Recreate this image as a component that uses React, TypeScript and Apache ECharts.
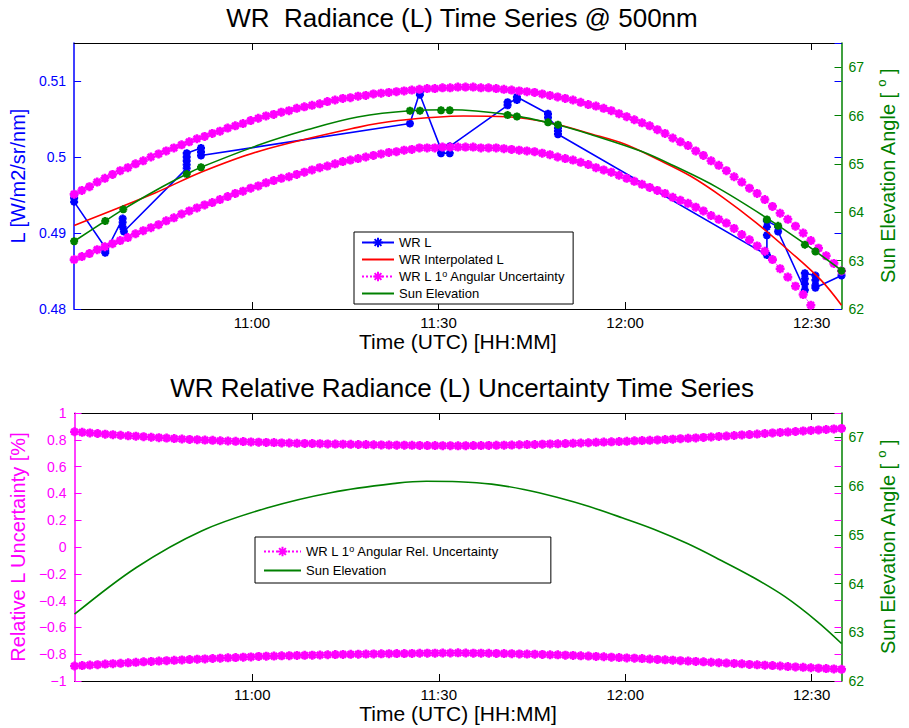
import React, { useEffect, useRef } from 'react';
import * as echarts from 'echarts';

const FONT = '"Liberation Sans", Arial, Helvetica, sans-serif';
const BLUE = '#0000ff';
const RED = '#ff0000';
const MAGENTA = '#ff00ff';
const GREEN = '#008000';
const STAR = 'path://M5 0L5 10M0 5L10 5M1.46 1.46L8.54 8.54M1.46 8.54L8.54 1.46';
const NO_MARK = 'path://M0 0L1 1';

// time axis, minutes since 00:00 UTC
const X_MIN = 631.4;
const X_MAX = 754.8;
const X_TICKS = [660, 690, 720, 750];

// WR L measurements (top plot, left axis)
const wrTimes = [
  631.4, 631.4, 631.4, 636.4, 636.4, 636.4, 639.2, 639.2, 639.2, 639.4,
  649.5, 649.5, 649.5, 649.5, 649.5, 651.8, 651.8, 651.8, 685.4, 687.0, 687.0,
  690.4, 690.4, 691.8, 691.8, 701.1, 701.1, 702.6, 702.6, 707.6, 707.6,
  709.2, 709.2, 709.2, 742.8, 742.8, 742.8, 742.8, 744.6, 744.6,
  748.9, 748.9, 748.9, 748.9, 750.6, 750.6, 750.6, 750.6, 754.8,
];
const wrL = [
  0.4951, 0.4946, 0.4941, 0.4881, 0.4877, 0.4874, 0.4919, 0.4914, 0.4908, 0.4902,
  0.4985, 0.4990, 0.4995, 0.5000, 0.5005, 0.5012, 0.5007, 0.5002, 0.5044, 0.5086, 0.5082,
  0.5010, 0.5005, 0.5005, 0.5014, 0.5068, 0.5072, 0.5075, 0.5079, 0.5057, 0.5052,
  0.5038, 0.5034, 0.5030, 0.4871, 0.4897, 0.4908, 0.4916, 0.4908, 0.4902,
  0.4825, 0.4833, 0.4840, 0.4847, 0.4844, 0.4838, 0.4831, 0.4828, 0.4844,
];

// WR interpolated L
const interpTimes = [631.4, 644.5, 651.8, 661.3, 677.0, 683.5, 694.0, 701.1, 707.9, 714.7, 719.9, 725.2, 730.5, 735.7, 741.0, 746.3, 751.5, 754.8];
const interpL = [0.4910, 0.4953, 0.4980, 0.5008, 0.5039, 0.5048, 0.5054, 0.5053, 0.5045, 0.5030, 0.5017, 0.4997, 0.4975, 0.4947, 0.4914, 0.4877, 0.4838, 0.4805];

// uncertainty envelope sampling (regular grid of 101 samples)
const UNC_START = 631.4;
const UNC_STEP = 1.234;

const uncUpperL = [
  0.4951, 0.4956, 0.4961, 0.4967, 0.4972, 0.4977, 0.4982, 0.4986, 0.4991, 0.4995,
  0.5000, 0.5004, 0.5008, 0.5012, 0.5016, 0.5020, 0.5024, 0.5027, 0.5031, 0.5034,
  0.5038, 0.5041, 0.5044, 0.5048, 0.5051, 0.5054, 0.5056, 0.5059, 0.5061, 0.5064,
  0.5066, 0.5068, 0.5070, 0.5073, 0.5075, 0.5077, 0.5078, 0.5080, 0.5081, 0.5083,
  0.5084, 0.5085, 0.5086, 0.5087, 0.5088, 0.5089, 0.5090, 0.5090, 0.5091, 0.5091,
  0.5092, 0.5092, 0.5092, 0.5091, 0.5091, 0.5090, 0.5089, 0.5088, 0.5087, 0.5086,
  0.5085, 0.5083, 0.5081, 0.5079, 0.5077, 0.5075, 0.5072, 0.5069, 0.5067, 0.5064,
  0.5061, 0.5057, 0.5053, 0.5049, 0.5045, 0.5041, 0.5036, 0.5031, 0.5025, 0.5020,
  0.5015, 0.5008, 0.5002, 0.4995, 0.4989, 0.4982, 0.4974, 0.4967, 0.4959, 0.4952,
  0.4944, 0.4935, 0.4926, 0.4918, 0.4909, 0.4900, 0.4890, 0.4880, 0.4870, 0.4860,
  0.4850,
];
const uncLowerL = [
  0.4865, 0.4869, 0.4873, 0.4878, 0.4882, 0.4886, 0.4890, 0.4894, 0.4899, 0.4903,
  0.4907, 0.4911, 0.4916, 0.4920, 0.4925, 0.4929, 0.4933, 0.4937, 0.4940, 0.4944,
  0.4948, 0.4952, 0.4955, 0.4959, 0.4962, 0.4966, 0.4969, 0.4972, 0.4974, 0.4977,
  0.4980, 0.4983, 0.4986, 0.4988, 0.4991, 0.4994, 0.4996, 0.4998, 0.5000, 0.5002,
  0.5004, 0.5006, 0.5007, 0.5009, 0.5010, 0.5012, 0.5012, 0.5012, 0.5013, 0.5013,
  0.5013, 0.5013, 0.5013, 0.5012, 0.5012, 0.5012, 0.5011, 0.5010, 0.5009, 0.5008,
  0.5007, 0.5005, 0.5003, 0.5000, 0.4998, 0.4996, 0.4993, 0.4990, 0.4986, 0.4983,
  0.4980, 0.4976, 0.4972, 0.4968, 0.4964, 0.4960, 0.4956, 0.4952, 0.4947, 0.4943,
  0.4939, 0.4934, 0.4929, 0.4923, 0.4918, 0.4913, 0.4906, 0.4898, 0.4891, 0.4883,
  0.4876, 0.4865, 0.4853, 0.4842, 0.4830, 0.4819, 0.4805, 0.4791, 0.4778, 0.4764,
  0.4750,
];
const uncRelUpper = [
  0.860, 0.856, 0.851, 0.847, 0.842, 0.838, 0.834, 0.830, 0.827, 0.823,
  0.819, 0.816, 0.813, 0.809, 0.806, 0.803, 0.801, 0.798, 0.796, 0.793,
  0.791, 0.789, 0.787, 0.784, 0.782, 0.780, 0.779, 0.777, 0.776, 0.774,
  0.773, 0.772, 0.771, 0.769, 0.768, 0.767, 0.766, 0.765, 0.764, 0.763,
  0.762, 0.761, 0.760, 0.760, 0.759, 0.758, 0.757, 0.757, 0.756, 0.756,
  0.755, 0.756, 0.757, 0.757, 0.758, 0.759, 0.760, 0.761, 0.763, 0.764,
  0.765, 0.767, 0.769, 0.770, 0.772, 0.774, 0.776, 0.778, 0.781, 0.783,
  0.785, 0.787, 0.789, 0.792, 0.794, 0.796, 0.799, 0.802, 0.805, 0.808,
  0.811, 0.814, 0.818, 0.821, 0.825, 0.828, 0.832, 0.836, 0.839, 0.843,
  0.847, 0.851, 0.855, 0.858, 0.862, 0.866, 0.870, 0.874, 0.877, 0.881,
  0.885,
];
const uncRelLower = [
  -0.888, -0.885, -0.881, -0.878, -0.874, -0.871, -0.868, -0.864, -0.861, -0.857,
  -0.854, -0.851, -0.848, -0.846, -0.843, -0.840, -0.837, -0.835, -0.832, -0.830,
  -0.827, -0.825, -0.822, -0.820, -0.817, -0.815, -0.814, -0.812, -0.811, -0.809,
  -0.808, -0.807, -0.806, -0.804, -0.803, -0.802, -0.801, -0.800, -0.799, -0.798,
  -0.797, -0.796, -0.795, -0.795, -0.794, -0.793, -0.792, -0.792, -0.791, -0.791,
  -0.790, -0.791, -0.792, -0.792, -0.793, -0.794, -0.795, -0.796, -0.798, -0.799,
  -0.800, -0.802, -0.804, -0.805, -0.807, -0.809, -0.812, -0.814, -0.817, -0.819,
  -0.822, -0.825, -0.828, -0.830, -0.833, -0.836, -0.839, -0.842, -0.845, -0.848,
  -0.851, -0.854, -0.857, -0.860, -0.863, -0.866, -0.869, -0.872, -0.876, -0.879,
  -0.882, -0.885, -0.888, -0.892, -0.895, -0.898, -0.901, -0.904, -0.907, -0.910,
  -0.913,
];

// Sun elevation (top plot)
const sunTopTimes = [631.4, 636.4, 639.3, 644.5, 649.5, 651.8, 661.3, 669.0, 677.0, 685.4, 691.8, 701.1, 709.4, 714.7, 722.6, 728.0, 734.7, 742.8, 749.1, 754.8];
const sunTopElev = [63.40, 63.82, 64.06, 64.45, 64.79, 64.93, 65.40, 65.71, 65.97, 66.10, 66.12, 66.02, 65.80, 65.60, 65.26, 64.95, 64.52, 63.88, 63.33, 62.80];
// Sun elevation at measurement times (green markers, top plot)
const sunMarkTimes = [631.4, 636.4, 639.3, 649.5, 651.8, 685.4, 687.0, 690.4, 691.8, 701.1, 702.6, 707.6, 709.2, 742.8, 744.6, 748.9, 750.6, 754.8];
const sunMarkElev = [63.40, 63.82, 64.06, 64.79, 64.93, 66.10, 66.10, 66.11, 66.11, 66.01, 65.98, 65.86, 65.81, 63.85, 63.72, 63.33, 63.19, 62.79];
// Sun elevation (bottom plot)
const sunBotTimes = [631.4, 641.35, 651.84, 662.33, 672.8, 683.3, 688.0, 693.2, 698.5, 703.7, 709.0, 714.2, 719.5, 724.7, 730.0, 735.2, 740.4, 745.7, 750.9, 754.8];
const sunBotElev = [63.37, 64.33, 65.08, 65.55, 65.87, 66.06, 66.10, 66.09, 66.04, 65.93, 65.77, 65.58, 65.35, 65.11, 64.82, 64.49, 64.14, 63.73, 63.22, 62.77];

const NAME_WRL = 'WR L';
const NAME_INTERP = 'WR Interpolated L';
const NAME_UNC = 'WR L 1o Angular Uncertainty';
const NAME_REL = 'WR L 1o Angular Rel. Uncertainty';
const NAME_SUN = 'Sun Elevation';

const pairs = (xs: number[], ys: number[]) => ys.map((y, i) => [xs[i], y]);
const uncPairs = (ys: number[]) => ys.map((y, i) => [UNC_START + i * UNC_STEP, y]);

const fmtTime = (v: number) => {
  const h = Math.floor(v / 60 + 1e-9);
  const m = Math.round(v - h * 60);
  return `${h}:${String(m).padStart(2, '0')}`;
};

const makeX = (gridIndex: number, position: 'top' | 'bottom', main: boolean) => ({
  type: 'value',
  gridIndex,
  position,
  min: X_MIN,
  max: X_MAX,
  axisLine: { show: true, onZero: false, lineStyle: { color: '#000', width: 1 } },
  axisTick: { show: true, inside: true, length: 7, customValues: X_TICKS, lineStyle: { color: '#000' } },
  axisLabel: {
    show: main,
    customValues: X_TICKS,
    formatter: fmtTime,
    color: '#000',
    fontSize: 15,
    fontFamily: FONT,
    margin: 6,
  },
  splitLine: { show: false },
  name: main ? 'Time (UTC) [HH:MM]' : '',
  nameLocation: 'middle',
  nameGap: 22,
  nameTextStyle: { color: '#000', fontSize: 21, fontFamily: FONT },
});

const sunAxis = (gridIndex: number) => ({
  type: 'value',
  gridIndex,
  position: 'right',
  min: 62,
  max: 67.5,
  interval: 1,
  axisLine: { show: true, onZero: false, lineStyle: { color: GREEN, width: 1.5 } },
  axisTick: { show: true, inside: true, length: 7, lineStyle: { color: GREEN } },
  axisLabel: { color: GREEN, fontSize: 14, fontFamily: FONT, margin: 7, showMaxLabel: false },
  splitLine: { show: false },
  name: 'Sun Elevation Angle [ {sup|o} ]',
  nameLocation: 'middle',
  nameRotate: 90,
  nameGap: 28,
  nameTextStyle: {
    color: GREEN,
    fontSize: 20,
    fontFamily: FONT,
    lineHeight: 26,
    rich: { sup: { color: GREEN, fontSize: 13, fontFamily: FONT, lineHeight: 13, verticalAlign: 'top' } },
  },
});

const mirrorAxis = (gridIndex: number, min: number, max: number, interval: number, color: string) => ({
  type: 'value',
  gridIndex,
  position: 'right',
  min,
  max,
  interval,
  axisLine: { show: false, onZero: false },
  axisTick: { show: true, inside: true, length: 7, lineStyle: { color } },
  axisLabel: { show: false },
  splitLine: { show: false },
});

const legendFormatter = (name: string) =>
  name.indexOf('1o') >= 0 ? name.replace('1o', '1{sup|o}') : name;

const legendText = {
  color: '#000',
  fontSize: 13,
  fontFamily: FONT,
  lineHeight: 15,
  rich: { sup: { color: '#000', fontSize: 9, fontFamily: FONT, lineHeight: 9, verticalAlign: 'top' } },
};

const plainLine = (color: string) => ({
  color,
  lineStyle: { color, width: 1.6 },
  symbol: NO_MARK,
  showSymbol: false,
  itemStyle: { color: 'rgba(0,0,0,0)', borderColor: 'rgba(0,0,0,0)', borderWidth: 0 },
});

const starLine = (color: string, size: number, width: number, dotted: boolean) => ({
  color,
  lineStyle: { color, width: dotted ? 1 : 1.6, type: dotted ? 'dotted' : 'solid' },
  symbol: STAR,
  symbolSize: size,
  showAllSymbol: true,
  itemStyle: { color, borderColor: color, borderWidth: width },
});

const option: any = {
  animation: false,
  backgroundColor: '#ffffff',
  title: [
    {
      text: 'WR  Radiance (L) Time Series @ 500nm',
      left: 462,
      top: 5,
      textAlign: 'center',
      padding: 0,
      textStyle: { fontSize: 26, fontWeight: 'normal', color: '#000', fontFamily: FONT },
    },
    {
      text: 'WR Relative Radiance (L) Uncertainty Time Series',
      left: 462,
      top: 375,
      textAlign: 'center',
      padding: 0,
      textStyle: { fontSize: 26, fontWeight: 'normal', color: '#000', fontFamily: FONT },
    },
  ],
  legend: [
    {
      orient: 'vertical',
      left: 354,
      top: 232,
      data: [NAME_WRL, NAME_INTERP, NAME_UNC, NAME_SUN],
      itemWidth: 32,
      itemHeight: 12,
      itemGap: 2,
      padding: [3, 8, 3, 7],
      borderColor: '#000',
      borderWidth: 1,
      backgroundColor: '#fff',
      textStyle: legendText,
      formatter: legendFormatter,
      selectedMode: false,
    },
    {
      orient: 'vertical',
      left: 255,
      top: 537,
      data: [NAME_REL, NAME_SUN],
      itemWidth: 37,
      itemHeight: 12,
      itemGap: 4,
      padding: [7, 52, 5, 8],
      borderColor: '#000',
      borderWidth: 1,
      backgroundColor: '#fff',
      textStyle: legendText,
      formatter: legendFormatter,
      selectedMode: false,
    },
  ],
  grid: [
    { left: 70, top: 43, width: 785, height: 266, containLabel: false },
    { left: 70, top: 413, width: 785, height: 268, containLabel: false },
  ],
  xAxis: [makeX(0, 'bottom', true), makeX(0, 'top', false), makeX(1, 'bottom', true), makeX(1, 'top', false)],
  yAxis: [
    {
      type: 'value',
      gridIndex: 0,
      position: 'left',
      min: 0.48,
      max: 0.515,
      interval: 0.01,
      axisLine: { show: true, onZero: false, lineStyle: { color: BLUE, width: 1.5 } },
      axisTick: { show: true, inside: true, length: 7, lineStyle: { color: BLUE } },
      axisLabel: { color: BLUE, fontSize: 14, fontFamily: FONT, margin: 8, showMaxLabel: false },
      splitLine: { show: false },
      name: 'L [W/m2/sr/nm]',
      nameLocation: 'middle',
      nameRotate: 90,
      nameGap: 43,
      nameTextStyle: { color: BLUE, fontSize: 20, fontFamily: FONT },
    },
    sunAxis(0),
    mirrorAxis(0, 0.48, 0.515, 0.01, BLUE),
    {
      type: 'value',
      gridIndex: 1,
      position: 'left',
      min: -1,
      max: 1,
      interval: 0.2,
      axisLine: { show: true, onZero: false, lineStyle: { color: MAGENTA, width: 1.5 } },
      axisTick: { show: true, inside: true, length: 7, lineStyle: { color: MAGENTA } },
      axisLabel: {
        color: MAGENTA,
        fontSize: 14,
        fontFamily: FONT,
        margin: 8,
        formatter: (v: number) => {
          const r = Math.round(v * 10) / 10;
          return r < 0 ? '\u2212' + String(-r) : String(r);
        },
      },
      splitLine: { show: false },
      name: 'Relative L Uncertainty [%]',
      nameLocation: 'middle',
      nameRotate: 90,
      nameGap: 42,
      nameTextStyle: { color: MAGENTA, fontSize: 20, fontFamily: FONT },
    },
    sunAxis(1),
    mirrorAxis(1, -1, 1, 0.2, MAGENTA),
  ],
  series: [
    {
      name: NAME_WRL,
      type: 'line',
      xAxisIndex: 0,
      yAxisIndex: 0,
      data: pairs(wrTimes, wrL),
      ...starLine(BLUE, 8, 2.4, false),
      z: 2,
      silent: true,
    },
    {
      name: NAME_INTERP,
      type: 'line',
      xAxisIndex: 0,
      yAxisIndex: 0,
      data: pairs(interpTimes, interpL),
      smooth: 0.35,
      ...plainLine(RED),
      z: 3,
      silent: true,
    },
    {
      name: NAME_UNC,
      type: 'line',
      xAxisIndex: 0,
      yAxisIndex: 0,
      data: uncPairs(uncUpperL),
      ...starLine(MAGENTA, 9, 2.6, true),
      z: 4,
      silent: true,
    },
    {
      name: NAME_UNC,
      type: 'line',
      xAxisIndex: 0,
      yAxisIndex: 0,
      data: uncPairs(uncLowerL),
      ...starLine(MAGENTA, 9, 2.6, true),
      z: 4,
      silent: true,
    },
    {
      name: NAME_SUN,
      type: 'line',
      xAxisIndex: 0,
      yAxisIndex: 1,
      data: pairs(sunTopTimes, sunTopElev),
      smooth: 0.35,
      ...plainLine(GREEN),
      z: 5,
      silent: true,
    },
    {
      name: 'Sun Elevation at WR L',
      type: 'scatter',
      xAxisIndex: 0,
      yAxisIndex: 1,
      data: pairs(sunMarkTimes, sunMarkElev),
      symbol: STAR,
      symbolSize: 8,
      itemStyle: { color: GREEN, borderColor: GREEN, borderWidth: 2.4, opacity: 1 },
      z: 6,
      silent: true,
    },
    {
      name: NAME_REL,
      type: 'line',
      xAxisIndex: 2,
      yAxisIndex: 3,
      data: uncPairs(uncRelUpper),
      ...starLine(MAGENTA, 9, 2.6, true),
      z: 4,
      silent: true,
    },
    {
      name: NAME_REL,
      type: 'line',
      xAxisIndex: 2,
      yAxisIndex: 3,
      data: uncPairs(uncRelLower),
      ...starLine(MAGENTA, 9, 2.6, true),
      z: 4,
      silent: true,
    },
    {
      name: NAME_SUN,
      type: 'line',
      xAxisIndex: 2,
      yAxisIndex: 4,
      data: pairs(sunBotTimes, sunBotElev),
      smooth: 0.35,
      ...plainLine(GREEN),
      z: 5,
      silent: true,
    },
  ],
};

export default function App() {
  const ref = useRef<HTMLDivElement>(null);
  useEffect(() => {
    if (!ref.current) return;
    const chart = echarts.init(ref.current, null, { renderer: 'svg' });
    chart.setOption(option);
    return () => chart.dispose();
  }, []);
  return (
    <div
      ref={ref}
      style={{ position: 'fixed', left: 0, top: 0, width: 909, height: 728, background: '#ffffff' }}
    />
  );
}
